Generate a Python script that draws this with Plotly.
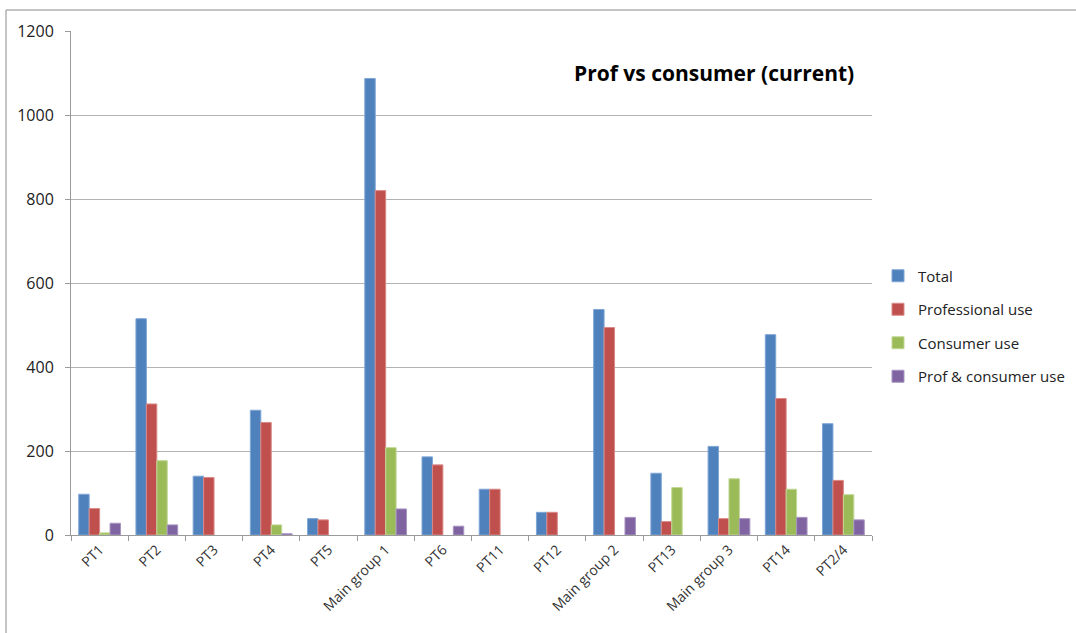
import plotly.graph_objects as go

categories = ["PT1", "PT2", "PT3", "PT4", "PT5", "Main group 1", "PT6", "PT11",
              "PT12", "Main group 2", "PT13", "Main group 3", "PT14", "PT2/4"]
total = [97, 515, 140, 297, 39, 1087, 186, 109, 54, 537, 147, 211, 477, 265]
professional = [63, 312, 137, 268, 36, 820, 167, 109, 54, 494, 32, 39, 325, 130]
consumer = [5, 177, 0, 24, 0, 208, 0, 0, 0, 0, 113, 134, 109, 96]
prof_consumer = [28, 24, 0, 3, 0, 62, 21, 0, 0, 42, 0, 39, 42, 36]

series = [
    ("Total", total, "#4F81BD", "#7FA6D6"),
    ("Professional use", professional, "#C0504D", "#D98A88"),
    ("Consumer use", consumer, "#9BBB59", "#C2D896"),
    ("Prof & consumer use", prof_consumer, "#8064A2", "#A895C2"),
]

FONT = "Open Sans, Lato, sans-serif"

fig = go.Figure()
for name, vals, col, edge in series:
    fig.add_trace(go.Bar(
        x=categories, y=[v if v else None for v in vals], name=name,
        legendgroup=name,
        marker=dict(color=col, line=dict(color=edge, width=1)),
    ))

W, H = 1076, 633
L, R, T, B = 71, 872, 31, 535

def px(x):
    return (x - L) / (R - L)

def py(y):
    return (B - y) / (B - T)

fig.update_layout(
    width=W, height=H,
    margin=dict(l=L, r=W - R, t=T, b=H - B, pad=0, autoexpand=False),
    paper_bgcolor="white", plot_bgcolor="white",
    barmode="group", bargap=0.27, bargroupgap=0,
    font=dict(family=FONT, color="#222222"),
    showlegend=True,
    legend=dict(
        x=px(878), y=py(326), xanchor="left", yanchor="middle",
        font=dict(size=15, family=FONT, color="#222222"),
        tracegroupgap=11, itemwidth=30,
        bgcolor="rgba(0,0,0,0)",
    ),
    xaxis=dict(
        type="category",
        showline=True, linecolor="#9a9a9a", linewidth=1,
        ticks="outside", tickson="boundaries", ticklen=5, tickcolor="#9a9a9a",
        tickangle=-45,
        tickfont=dict(size=14, family=FONT, color="#333333"),
        showgrid=False,
    ),
    yaxis=dict(
        range=[0, 1200], tickvals=[0, 200, 400, 600, 800, 1000, 1200],
        showline=True, linecolor="#9a9a9a", linewidth=1,
        ticks="outside", ticklen=5, tickcolor="#9a9a9a",
        ticklabelstandoff=8,
        showgrid=True, gridcolor="#b3b3b3", gridwidth=1,
        zeroline=False,
        tickfont=dict(size=16, family=FONT, color="#222222"),
    ),
    annotations=[dict(
        text="<b>Prof vs consumer (current)</b>",
        xref="paper", yref="paper", x=px(714), y=py(73),
        xanchor="center", yanchor="middle", showarrow=False,
        font=dict(size=21, family=FONT, color="#000000"),
    )],
    shapes=[
        dict(type="line", xref="paper", yref="paper",
             x0=px(6), y0=py(10), x1=px(1080), y1=py(10),
             line=dict(color="#8a8a8a", width=1)),
        dict(type="line", xref="paper", yref="paper",
             x0=px(6), y0=py(10), x1=px(6), y1=py(640),
             line=dict(color="#8a8a8a", width=1)),
    ],
)

fig.write_html("out.html")
